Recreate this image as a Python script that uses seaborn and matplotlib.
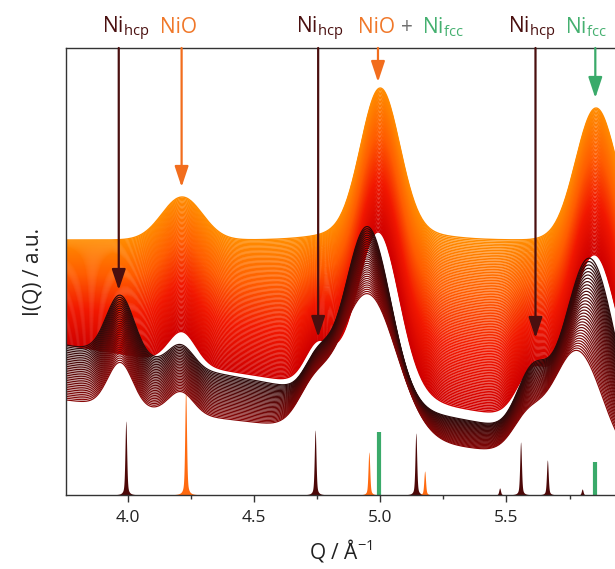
import numpy as np
import pandas as pd
import matplotlib
matplotlib.use("Agg")
import matplotlib.pyplot as plt
from matplotlib.colors import LinearSegmentedColormap
from matplotlib.transforms import blended_transform_factory
from matplotlib.ticker import MultipleLocator
import seaborn as sns

# ---------------- data ----------------
q_min, q_max = 3.755, 5.93

# Key scans of the in-situ series: linear background (value at q_min, value at q_max)
# and peak tables (centre / Å^-1, width / Å^-1, height)
oxide_first_bg = (255, 255)
oxide_first_centres = [4.215, 5.0, 5.0, 5.855]
oxide_first_widths = [0.08, 0.076, 0.18, 0.08]
oxide_first_heights = [43, 140, 12, 132]

oxide_last_bg = (150, 62)
oxide_last_centres = [4.215, 4.75, 4.97, 5.0, 5.6, 5.85]
oxide_last_widths = [0.055, 0.05, 0.11, 0.075, 0.06, 0.1]
oxide_last_heights = [32, 35, 65, 100, 45, 175]

metal_first_bg = (95, 30)
metal_first_centres = [3.97, 4.21, 4.73, 4.95, 5.58, 5.78]
metal_first_widths = [0.05, 0.05, 0.06, 0.115, 0.06, 0.1]
metal_first_heights = [44, 22, 30, 142, 30, 110]

metal_last_bg = (150, 47)
metal_last_centres = [3.97, 4.21, 4.75, 4.95, 5.6, 5.83]
metal_last_widths = [0.055, 0.05, 0.05, 0.09, 0.06, 0.1]
metal_last_heights = [60, 22, 30, 175, 55, 185]

n_oxide_scans = 110
n_metal_scans = 32

# Reference reflections (position, relative intensity)
hcp_pos = [3.992, 4.742, 5.141, 5.473, 5.556, 5.662, 5.800]
hcp_int = [74, 65, 62, 7, 53, 35, 6]
nio_pos = [4.229, 4.955, 5.176]
nio_int = [107, 43, 24]
fcc_pos = [4.995, 5.850]
fcc_int = [63, 33]

# Phase markers above the patterns: (arrow position, arrow tip height)
hcp_arrow_q = [3.964, 4.754, 5.615]
hcp_arrow_tip = [205, 158, 157]
nio_arrow_q = [4.213, 4.991]
nio_arrow_tip = [308, 413]
fcc_arrow_q = [5.852]
fcc_arrow_tip = [397]

c_hcp = "#4a0f0f"
c_nio = "#f26d1d"
c_fcc = "#3aaa6a"

# ---------------- profiles ----------------
q = np.linspace(3.74, 5.94, 441)


def profile(bg, centres, widths, heights):
    y = bg[0] + (bg[1] - bg[0]) * (q - q_min) / (q_max - q_min)
    for c, w, h in zip(centres, widths, heights):
        y = y + h * np.exp(-0.5 * ((q - c) / w) ** 2)
    return y


ox0 = profile(oxide_first_bg, oxide_first_centres, oxide_first_widths, oxide_first_heights)
ox1 = profile(oxide_last_bg, oxide_last_centres, oxide_last_widths, oxide_last_heights)
me0 = profile(metal_first_bg, metal_first_centres, metal_first_widths, metal_first_heights)
me1 = profile(metal_last_bg, metal_last_centres, metal_last_widths, metal_last_heights)

frames = []
scan = 0
for w in np.linspace(0, 1, n_oxide_scans):
    frames.append(pd.DataFrame({"Q": q, "I": (1 - w) * ox0 + w * ox1, "scan": scan}))
    scan += 1
for w in np.linspace(0, 1, n_metal_scans):
    frames.append(pd.DataFrame({"Q": q, "I": (1 - w) * me0 + w * me1, "scan": scan}))
    scan += 1
df = pd.concat(frames, ignore_index=True)
n_scans = scan

split = (n_oxide_scans - 0.5) / (n_scans - 1)
cmap = LinearSegmentedColormap.from_list(
    "reduction",
    [(0.0, "#ff8c00"), (0.25, "#ff5c00"), (0.5, "#f21800"), (split - 0.002, "#d00000"),
     (split, "#880707"), (0.9, "#5a0707"), (1.0, "#2c0a0a")])
palette = [cmap(i / (n_scans - 1)) for i in range(n_scans)]
widths = [1.0] * n_oxide_scans + [0.85] * n_metal_scans

# ---------------- figure ----------------
sns.set_style("ticks")
plt.rcParams["font.family"] = ["Open Sans", "DejaVu Sans"]
plt.rcParams["mathtext.fontset"] = "custom"
plt.rcParams["mathtext.rm"] = "Open Sans"

fig = plt.figure(figsize=(6.15, 5.69), dpi=100)
ax = fig.add_axes([66 / 615, 74 / 569, 1 - 66 / 615, 447 / 569])

# reference reflections
qf = np.linspace(q_min, q_max, 6000)


def sticks(pos, inten, s=0.0032):
    y = np.zeros_like(qf)
    for p, h in zip(pos, inten):
        y += h * (0.65 * np.exp(-0.5 * ((qf - p) / s) ** 2) + 0.35 / (1 + ((qf - p) / (1.6 * s)) ** 2))
    return y


ax.fill_between(qf, 0, sticks(hcp_pos, hcp_int), color="#4d0808", lw=0, zorder=1)
ax.fill_between(qf, 0, sticks(nio_pos, nio_int), color="#ff6a10", lw=0, zorder=1)
ax.vlines(fcc_pos, 0, fcc_int, colors=c_fcc, lw=3, zorder=1)

sns.lineplot(data=df, x="Q", y="I", hue="scan", palette=palette, size="scan",
             sizes=dict(enumerate(widths)), estimator=None,
             sort=False, legend=False, ax=ax, zorder=2)

ax.set_xlim(q_min, q_max)
ax.set_ylim(0, 447)
ax.set_yticks([])
ax.xaxis.set_major_locator(MultipleLocator(0.5))
ax.xaxis.set_minor_locator(MultipleLocator(0.25))
ax.tick_params(axis="x", which="major", length=5, width=1, labelsize=12.5, pad=6,
               color="#333333", labelcolor="#222222")
ax.tick_params(axis="x", which="minor", length=3, width=1, color="#333333")
for side in ["left", "top", "bottom"]:
    ax.spines[side].set_color("#333333")
    ax.spines[side].set_linewidth(1.0)
ax.spines["right"].set_visible(False)
ax.set_xlabel("Q / Å$^{-1}$", fontsize=15, labelpad=8, color="#222222")
ax.set_ylabel("I(Q) / a.u.", fontsize=15, labelpad=16, color="#222222")


# arrows
def arrow(qpos, tip, color):
    ax.annotate("", xy=(qpos, tip), xytext=(qpos, 447), annotation_clip=False,
                arrowprops=dict(arrowstyle="-|>,head_length=0.9,head_width=0.3",
                                color=color, lw=1.6, shrinkA=0, shrinkB=0,
                                mutation_scale=14), zorder=5)


for qp, tp in zip(hcp_arrow_q, hcp_arrow_tip):
    arrow(qp, tp, c_hcp)
for qp, tp in zip(nio_arrow_q, nio_arrow_tip):
    arrow(qp, tp, c_nio)
for qp, tp in zip(fcc_arrow_q, fcc_arrow_tip):
    arrow(qp, tp, c_fcc)

# labels
tr = blended_transform_factory(ax.transData, ax.transAxes)
ly = 1 + 15 / 447
kw = dict(transform=tr, ha="center", va="baseline", fontsize=15, clip_on=False)
hcp_label = r"Ni$_{\mathregular{hcp}}$"
fcc_label = r"Ni$_{\mathregular{fcc}}$"
for x in [3.992, 4.758, 5.599]:
    ax.text(x, ly, hcp_label, color="#4a1010", **kw)
for x in [4.201, 4.987]:
    ax.text(x, ly, "NiO", color="#f0782a", **kw)
ax.text(5.105, ly, "+", color="#707070", **kw)
for x in [5.246, 5.816]:
    ax.text(x, ly, fcc_label, color="#45b070", **kw)

fig.savefig("out.png", dpi=100)
